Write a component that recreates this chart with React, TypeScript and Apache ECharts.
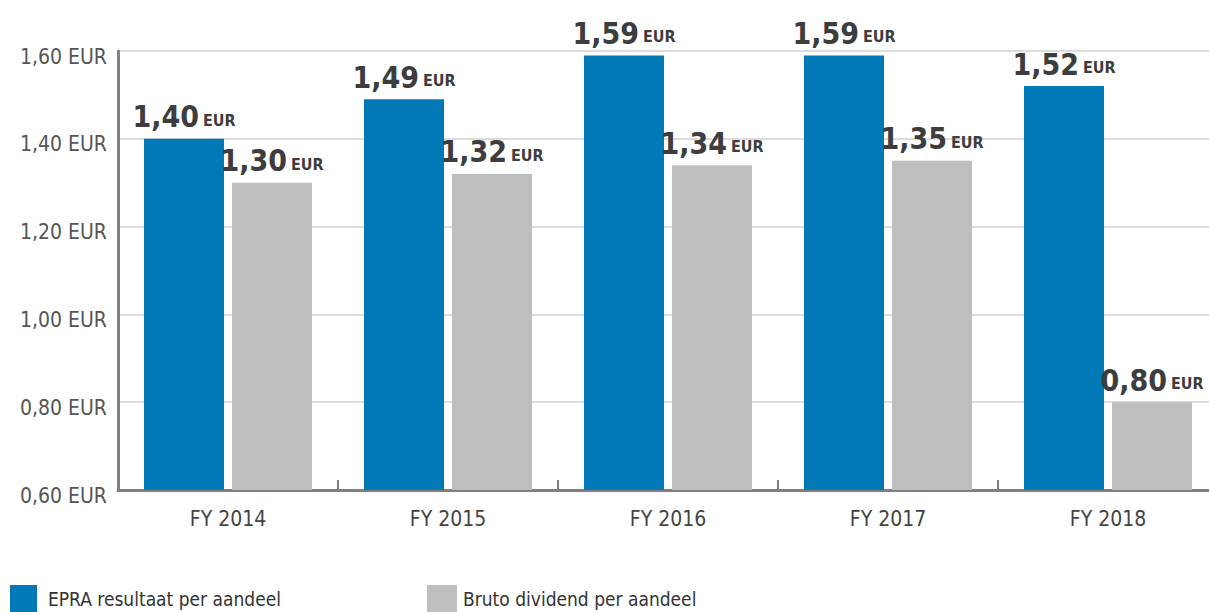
import React, { useEffect, useRef } from "react";
import * as echarts from "echarts";

const categories = ["FY 2014", "FY 2015", "FY 2016", "FY 2017", "FY 2018"];
const epraValues = [1.4, 1.49, 1.59, 1.59, 1.52];
const dividendValues = [1.3, 1.32, 1.34, 1.35, 0.8];
const seriesNames = ["EPRA resultaat per aandeel", "Bruto dividend per aandeel"];

const FONT = "'Liberation Sans Narrow', 'DejaVu Sans Condensed', 'Roboto', sans-serif";

const fmt = (v: number) => v.toFixed(2).replace(".", ",");

export default function App() {
  const ref = useRef<HTMLDivElement>(null);
  useEffect(() => {
    if (!ref.current) return;
    const chart = echarts.init(ref.current, undefined, { renderer: "svg" });
    const label = {
      show: true,
      position: "top" as const,
      distance: 7,
      formatter: (p: any) => `{a|${fmt(p.value)}}{b|EUR}`,
      rich: {
        a: { fontFamily: FONT, fontWeight: "bold", fontSize: 30, color: "#3d3d3d" },
        b: { fontFamily: FONT, fontWeight: "bold", fontSize: 16, color: "#3d3d3d", padding: [7, 0, 0, 4] },
      },
    };
    chart.setOption({
      animation: false,
      textStyle: { fontFamily: FONT },
      grid: { left: 118, right: 0, top: 51, bottom: 122 },
      legend: [
        {
          data: [seriesNames[0]],
          left: 10,
          top: 585,
          padding: 0,
          itemWidth: 27,
          itemHeight: 28,
          icon: "rect",
          textStyle: { fontFamily: FONT, fontSize: 19, color: "#333", padding: [8, 0, 0, 6] },
        },
        {
          data: [seriesNames[1]],
          left: 427,
          top: 585,
          padding: 0,
          itemWidth: 30,
          itemHeight: 28,
          icon: "rect",
          textStyle: { fontFamily: FONT, fontSize: 19, color: "#333", padding: [8, 0, 0, 1] },
        },
      ],
      xAxis: {
        type: "category",
        data: categories,
        axisLine: { lineStyle: { color: "#808080", width: 3 } },
        axisTick: { show: true, inside: true, length: 10, lineStyle: { color: "#808080", width: 2 } },
        axisLabel: { fontFamily: FONT, fontSize: 21, color: "#444", margin: 18 },
      },
      yAxis: {
        type: "value",
        min: 0.6,
        max: 1.6,
        interval: 0.2,
        axisLine: { show: true, lineStyle: { color: "#808080", width: 3 } },
        axisTick: { show: false },
        splitLine: { lineStyle: { color: "#d0d0d0", width: 1.5 } },
        axisLabel: {
          margin: 11,
          formatter: (v: number) => `{v|${fmt(v)} EUR}`,
          rich: {
            v: { fontFamily: FONT, fontSize: 21, color: "#555", padding: [11, 0, 0, 0] },
          },
        },
      },
      series: [
        {
          name: seriesNames[0],
          type: "bar",
          data: epraValues,
          barWidth: 80,
          barGap: "10%",
          itemStyle: { color: "#0079b6" },
          label,
        },
        {
          name: seriesNames[1],
          type: "bar",
          data: dividendValues,
          barWidth: 80,
          itemStyle: { color: "#bdbec0" },
          label,
        },
      ],
    });
    return () => chart.dispose();
  }, []);
  return (
    <div style={{ position: "absolute", left: 0, top: 0, width: 1209, height: 612, overflow: "hidden" }}>
      <div ref={ref} style={{ position: "absolute", left: 0, top: 0, width: 1218, height: 612 }} />
    </div>
  );
}
